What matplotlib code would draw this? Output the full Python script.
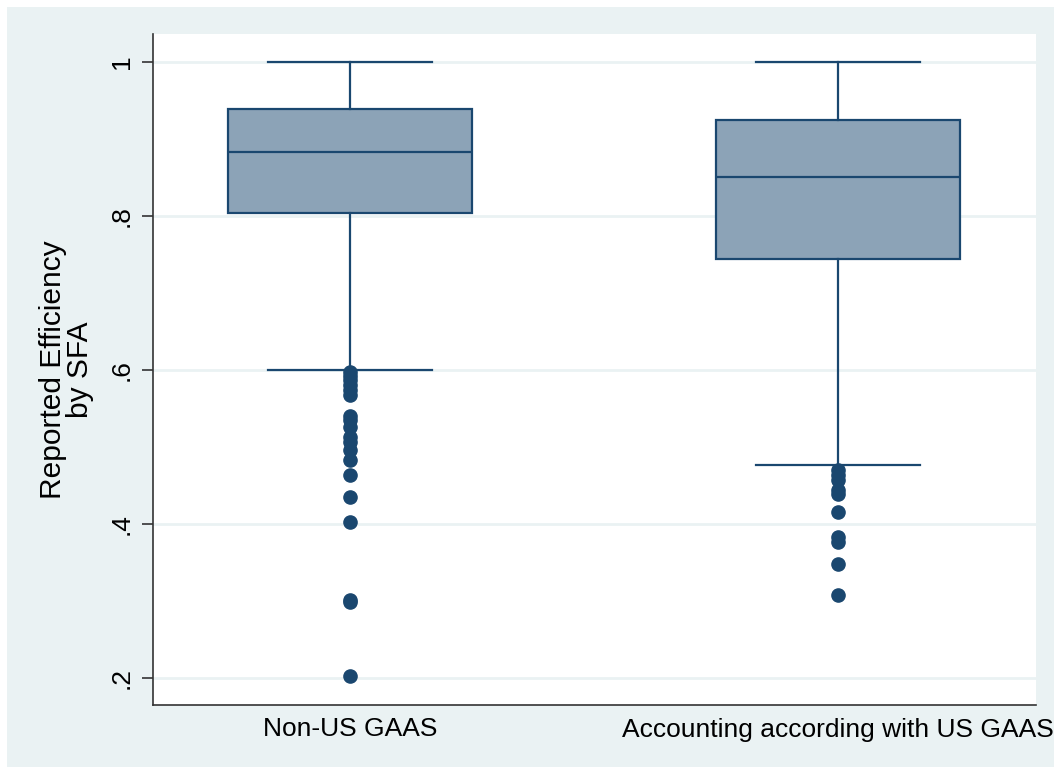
import matplotlib
matplotlib.use("Agg")
import matplotlib.pyplot as plt
from matplotlib.patches import Rectangle

plt.rcParams['font.family'] = ['Liberation Sans', 'DejaVu Sans']

categories = ["Non-US GAAS", "Accounting according with US GAAS"]
medians = [0.883, 0.850]
q1s = [0.8035, 0.7437]
q3s = [0.9386, 0.924]
whislo = [0.600, 0.476]
whishi = [1.000, 1.000]
outliers_nonus = [0.597, 0.592, 0.587, 0.580, 0.574, 0.567, 0.540, 0.535, 0.526,
                  0.513, 0.506, 0.496, 0.483, 0.463, 0.435, 0.402, 0.301, 0.298, 0.202]
outliers_us = [0.470, 0.463, 0.457, 0.444, 0.439, 0.415, 0.383, 0.376, 0.348, 0.307]
outliers = [outliers_nonus, outliers_us]
yticks = [0.2, 0.4, 0.6, 0.8, 1.0]
yticklabels = [".2", ".4", ".6", ".8", "1"]
ylabel = "Reported Efficiency\nby SFA"

navy = "#1a476f"
fill = "#8ca3b7"
bg = "#eaf2f3"

W, H = 1054, 767
fig = plt.figure(figsize=(W / 100, H / 100), dpi=100, facecolor="white")
fig.patches.append(Rectangle((7 / W, 0), 1 - 7 / W, 1 - 7 / H, transform=fig.transFigure,
                             facecolor=bg, edgecolor="none", zorder=-10))
ax = fig.add_axes([153 / W, 1 - 705 / H, (1036 - 153) / W, (705 - 34) / H])
ax.set_zorder(5)
ax.set_facecolor("white")

stats = []
for i in range(len(categories)):
    stats.append(dict(med=medians[i], q1=q1s[i], q3=q3s[i], whislo=whislo[i],
                      whishi=whishi[i], fliers=outliers[i], label=categories[i]))

ax.bxp(stats, positions=[1, 2], widths=0.5, patch_artist=True,
       boxprops=dict(facecolor=fill, edgecolor=navy, linewidth=1.6),
       medianprops=dict(color=navy, linewidth=1.6),
       whiskerprops=dict(color=navy, linewidth=1.6),
       capprops=dict(color=navy, linewidth=1.6),
       capwidths=0.336,
       flierprops=dict(marker='o', markerfacecolor=navy, markeredgecolor=navy,
                       markersize=9.5, linestyle='none'))

ax.set_xlim(0.596, 2.406)
ax.set_ylim(0.1645, 1.036)
ax.set_yticks(yticks)
ax.set_yticklabels(yticklabels, rotation=90, va='center', fontsize=19)
ax.set_xticks([1, 2])
ax.set_xticklabels(categories, fontsize=19)
ax.tick_params(axis='x', length=0, pad=9)
ax.tick_params(axis='y', length=8, width=1.2, color="#333333", pad=6)
ax.grid(axis='y', color=bg, linewidth=2)
ax.set_axisbelow(True)
for s in ['top', 'right']:
    ax.spines[s].set_visible(False)
for s in ['left', 'bottom']:
    ax.spines[s].set_color("#333333")
    ax.spines[s].set_linewidth(1.2)
ax.set_ylabel(ylabel, fontsize=21.5, linespacing=0.97)
ax.yaxis.set_label_coords(-0.0668, 0.5)

fig.savefig("out.png", dpi=100, facecolor=fig.get_facecolor())
